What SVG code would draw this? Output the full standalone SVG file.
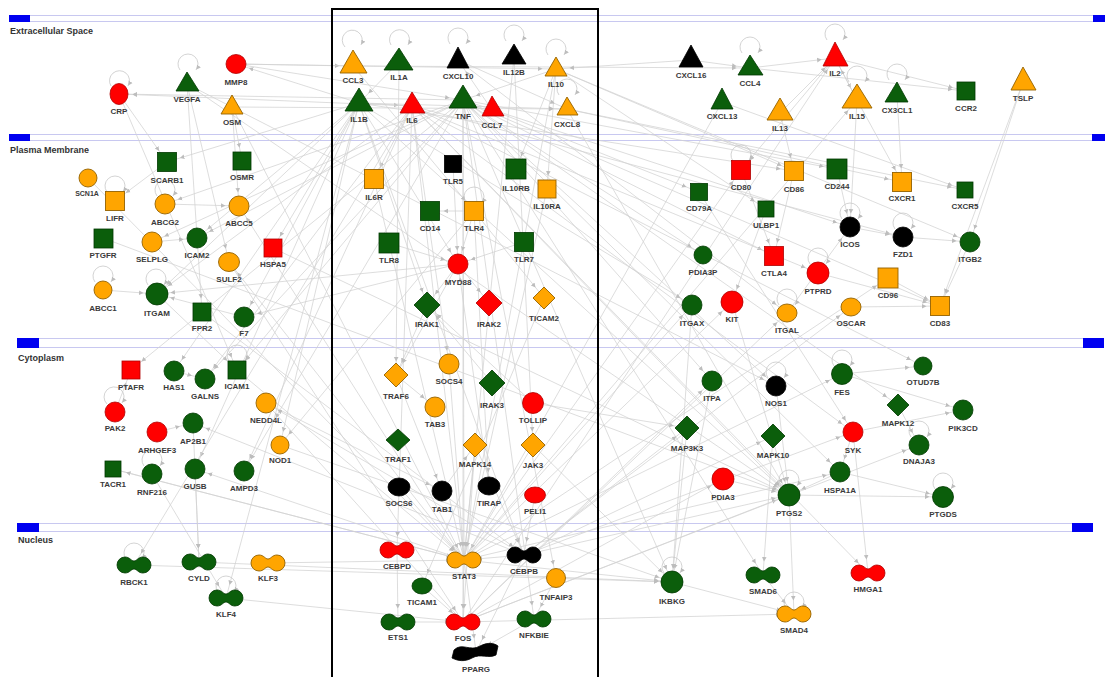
<svg xmlns="http://www.w3.org/2000/svg" xmlns:xlink="http://www.w3.org/1999/xlink" width="1105" height="677" viewBox="0 0 1105 677">
<style>
.bg{fill:#ffffff}
.cl{stroke:#c8c8f0;stroke-width:1;fill:none}
.bar{fill:#0000f0}
.ct{font-family:"Liberation Sans",Arial,sans-serif;font-weight:bold;font-size:9px;fill:#333}
.t{font-family:"Liberation Sans",Arial,sans-serif;font-weight:bold;font-size:8px;fill:#3a3a3a;text-anchor:middle}
.ts{font-size:7px}
.g{fill:#0b5e0b;stroke:#003800;stroke-width:0.8}
.o{fill:#ffa500;stroke:#946200;stroke-width:0.9}
.r{fill:#ff0000;stroke:#b00000;stroke-width:0.8}
.k{fill:#000000;stroke:#000;stroke-width:0.8}
.e line{stroke:#d2d2d2;stroke-width:0.75;marker-end:url(#a)}
.lp{stroke:#c8c8c8;stroke-width:0.8;fill:none;marker-end:url(#s)}
.box{fill:none;stroke:#000;stroke-width:2}
</style>
<defs>
<marker id="a" viewBox="0 0 20 6" refX="18" refY="3" markerWidth="20" markerHeight="6" markerUnits="userSpaceOnUse" orient="auto"><path d="M0,0.7 L4.5,3 L0,5.3 z" fill="#bdbdbd"/></marker>
<marker id="s" viewBox="0 0 6 6" refX="5" refY="3" markerWidth="6" markerHeight="6" markerUnits="userSpaceOnUse" orient="auto"><path d="M0,0.7 L4.5,3 L0,5.3 z" fill="#bdbdbd"/></marker>
<path id="db" d="M-9,-8 C-4,-8 -3,-4 0,-4 C3,-4 4,-8 9,-8 A8,8 0 0 1 9,8 C4,8 3,4 0,4 C-3,4 -4,8 -9,8 A8,8 0 0 1 -9,-8 Z"/>
</defs>
<rect class="bg" x="0" y="0" width="1105" height="677"/>
<g id="compartments">
<line class="cl" x1="9" y1="15.5" x2="1105" y2="15.5"/><line class="cl" x1="9" y1="21.5" x2="1105" y2="21.5"/>
<rect class="bar" x="9" y="15" width="21" height="7"/><rect class="bar" x="1093" y="15" width="12" height="7"/>
<text class="ct" x="10" y="34">Extracellular Space</text>
<line class="cl" x1="9" y1="134.5" x2="1105" y2="134.5"/><line class="cl" x1="9" y1="140.5" x2="1105" y2="140.5"/>
<rect class="bar" x="9" y="134" width="21" height="7"/><rect class="bar" x="1092" y="134" width="13" height="7"/>
<text class="ct" x="10" y="153">Plasma Membrane</text>
<line class="cl" x1="17" y1="338.5" x2="1104" y2="338.5"/><line class="cl" x1="17" y1="347.5" x2="1104" y2="347.5"/>
<rect class="bar" x="17" y="338" width="22" height="10"/><rect class="bar" x="1083" y="338" width="21" height="10"/>
<text class="ct" x="18" y="361">Cytoplasm</text>
<line class="cl" x1="17" y1="523.5" x2="1093" y2="523.5"/><line class="cl" x1="17" y1="531.5" x2="1093" y2="531.5"/>
<rect class="bar" x="17" y="523" width="22" height="9"/><rect class="bar" x="1072" y="523" width="21" height="9"/>
<text class="ct" x="18" y="543">Nucleus</text>
</g>
<g id="connectors" class="e">
<line x1="236" y1="64" x2="353" y2="66"/><line x1="236" y1="64" x2="556" y2="69"/><line x1="232" y1="107" x2="567" y2="109"/>
<line x1="232" y1="107" x2="242" y2="161"/><line x1="232" y1="107" x2="239" y2="206"/><line x1="232" y1="107" x2="464" y2="560"/>
<line x1="187" y1="84" x2="202" y2="312"/><line x1="187" y1="84" x2="229" y2="262"/><line x1="187" y1="84" x2="789" y2="495"/>
<line x1="119" y1="94" x2="167" y2="162"/><line x1="119" y1="94" x2="237" y2="370"/><line x1="167" y1="162" x2="115" y2="201"/>
<line x1="691" y1="60" x2="750" y2="68"/><line x1="750" y1="68" x2="835" y2="58"/><line x1="750" y1="68" x2="966" y2="91"/>
<line x1="835" y1="58" x2="966" y2="91"/><line x1="835" y1="58" x2="857" y2="100"/><line x1="857" y1="100" x2="902" y2="182"/>
<line x1="857" y1="100" x2="850" y2="227"/><line x1="780" y1="113" x2="835" y2="58"/><line x1="722" y1="102" x2="965" y2="190"/>
<line x1="897" y1="95" x2="902" y2="182"/><line x1="1023" y1="82" x2="940" y2="306"/><line x1="1023" y1="82" x2="970" y2="242"/>
<line x1="556" y1="69" x2="547" y2="189"/><line x1="556" y1="69" x2="516" y2="169"/><line x1="556" y1="69" x2="464" y2="560"/>
<line x1="556" y1="69" x2="794" y2="171"/><line x1="556" y1="69" x2="463" y2="100"/><line x1="412" y1="106" x2="374" y2="179"/>
<line x1="412" y1="106" x2="464" y2="560"/><line x1="412" y1="106" x2="397" y2="550"/><line x1="412" y1="106" x2="449" y2="364"/>
<line x1="359" y1="103" x2="412" y2="106"/><line x1="359" y1="103" x2="789" y2="495"/><line x1="359" y1="103" x2="427" y2="305"/>
<line x1="359" y1="103" x2="458" y2="264"/><line x1="359" y1="103" x2="524" y2="555"/><line x1="399" y1="62" x2="359" y2="103"/>
<line x1="399" y1="62" x2="396" y2="375"/><line x1="463" y1="100" x2="463" y2="622"/><line x1="463" y1="100" x2="464" y2="560"/>
<line x1="463" y1="100" x2="672" y2="582"/><line x1="463" y1="100" x2="237" y2="370"/><line x1="463" y1="100" x2="534" y2="619"/>
<line x1="463" y1="100" x2="556" y2="578"/><line x1="492" y1="110" x2="458" y2="60"/><line x1="458" y1="60" x2="567" y2="109"/>
<line x1="514" y1="57" x2="533" y2="445"/><line x1="514" y1="57" x2="464" y2="560"/><line x1="567" y1="109" x2="902" y2="182"/>
<line x1="567" y1="109" x2="965" y2="190"/><line x1="353" y1="66" x2="750" y2="68"/><line x1="353" y1="66" x2="474" y2="211"/>
<line x1="474" y1="211" x2="430" y2="211"/><line x1="474" y1="211" x2="458" y2="264"/><line x1="474" y1="211" x2="544" y2="298"/>
<line x1="474" y1="211" x2="489" y2="486"/><line x1="453" y1="164" x2="458" y2="264"/><line x1="524" y1="242" x2="458" y2="264"/>
<line x1="389" y1="243" x2="458" y2="264"/><line x1="458" y1="264" x2="427" y2="305"/><line x1="458" y1="264" x2="489" y2="303"/>
<line x1="458" y1="264" x2="396" y2="375"/><line x1="427" y1="305" x2="396" y2="375"/><line x1="492" y1="383" x2="427" y2="305"/>
<line x1="533" y1="403" x2="427" y2="305"/><line x1="396" y1="375" x2="442" y2="491"/><line x1="396" y1="375" x2="435" y2="407"/>
<line x1="442" y1="491" x2="475" y2="445"/><line x1="475" y1="445" x2="524" y2="555"/><line x1="475" y1="445" x2="463" y2="622"/>
<line x1="475" y1="445" x2="464" y2="560"/><line x1="533" y1="445" x2="464" y2="560"/><line x1="449" y1="364" x2="464" y2="560"/>
<line x1="399" y1="487" x2="464" y2="560"/><line x1="535" y1="495" x2="524" y2="555"/><line x1="489" y1="486" x2="458" y2="264"/>
<line x1="544" y1="298" x2="422" y2="586"/><line x1="422" y1="586" x2="463" y2="622"/><line x1="397" y1="550" x2="398" y2="622"/>
<line x1="464" y1="560" x2="463" y2="622"/><line x1="464" y1="560" x2="476" y2="652"/><line x1="524" y1="555" x2="476" y2="652"/>
<line x1="534" y1="619" x2="476" y2="652"/><line x1="398" y1="622" x2="463" y2="622"/><line x1="556" y1="578" x2="534" y2="619"/>
<line x1="524" y1="555" x2="464" y2="560"/><line x1="741" y1="170" x2="774" y2="256"/><line x1="794" y1="171" x2="774" y2="256"/>
<line x1="837" y1="169" x2="850" y2="227"/><line x1="699" y1="192" x2="853" y2="432"/><line x1="766" y1="209" x2="732" y2="302"/>
<line x1="850" y1="227" x2="903" y2="237"/><line x1="903" y1="237" x2="970" y2="242"/><line x1="888" y1="278" x2="940" y2="306"/>
<line x1="851" y1="307" x2="940" y2="306"/><line x1="970" y1="242" x2="940" y2="306"/><line x1="818" y1="273" x2="940" y2="306"/>
<line x1="787" y1="313" x2="850" y2="227"/><line x1="732" y1="302" x2="789" y2="495"/><line x1="692" y1="305" x2="672" y2="582"/>
<line x1="842" y1="374" x2="923" y2="366"/><line x1="842" y1="374" x2="963" y2="410"/><line x1="853" y1="432" x2="963" y2="410"/>
<line x1="898" y1="405" x2="919" y2="445"/><line x1="853" y1="432" x2="840" y2="472"/><line x1="840" y1="472" x2="789" y2="495"/>
<line x1="840" y1="472" x2="943" y2="497"/><line x1="789" y1="495" x2="943" y2="497"/><line x1="853" y1="432" x2="868" y2="573"/>
<line x1="773" y1="436" x2="763" y2="575"/><line x1="687" y1="428" x2="672" y2="582"/><line x1="723" y1="479" x2="789" y2="495"/>
<line x1="763" y1="575" x2="794" y2="614"/><line x1="672" y1="582" x2="794" y2="614"/><line x1="789" y1="495" x2="794" y2="614"/>
<line x1="776" y1="386" x2="789" y2="495"/><line x1="712" y1="381" x2="672" y2="582"/><line x1="273" y1="248" x2="789" y2="495"/>
<line x1="237" y1="370" x2="464" y2="560"/><line x1="266" y1="403" x2="442" y2="491"/><line x1="280" y1="445" x2="672" y2="582"/>
<line x1="195" y1="469" x2="199" y2="562"/><line x1="152" y1="474" x2="226" y2="598"/><line x1="193" y1="423" x2="199" y2="562"/>
<line x1="134" y1="565" x2="672" y2="582"/><line x1="199" y1="562" x2="672" y2="582"/><line x1="268" y1="563" x2="464" y2="560"/>
<line x1="226" y1="598" x2="463" y2="622"/><line x1="113" y1="469" x2="464" y2="560"/><line x1="115" y1="412" x2="131" y2="370"/>
<line x1="157" y1="432" x2="193" y2="423"/><line x1="174" y1="371" x2="205" y2="379"/><line x1="152" y1="242" x2="197" y2="238"/>
<line x1="103" y1="238" x2="789" y2="495"/><line x1="157" y1="294" x2="237" y2="370"/><line x1="103" y1="290" x2="157" y2="294"/>
<line x1="244" y1="317" x2="157" y2="294"/><line x1="165" y1="204" x2="239" y2="206"/><line x1="88" y1="178" x2="464" y2="560"/>
<line x1="229" y1="262" x2="463" y2="622"/><line x1="202" y1="312" x2="524" y2="555"/><line x1="464" y1="560" x2="722" y2="102"/>
<line x1="412" y1="106" x2="868" y2="573"/><line x1="463" y1="100" x2="763" y2="575"/><line x1="359" y1="103" x2="226" y2="598"/>
<line x1="524" y1="555" x2="789" y2="495"/><line x1="463" y1="622" x2="794" y2="614"/><line x1="464" y1="560" x2="672" y2="582"/>
<line x1="835" y1="58" x2="741" y2="170"/><line x1="857" y1="100" x2="835" y2="58"/><line x1="691" y1="60" x2="556" y2="69"/>
<line x1="359" y1="103" x2="567" y2="109"/><line x1="463" y1="100" x2="850" y2="227"/><line x1="412" y1="106" x2="903" y2="237"/>
<line x1="463" y1="100" x2="940" y2="306"/><line x1="556" y1="69" x2="970" y2="242"/><line x1="464" y1="560" x2="692" y2="305"/>
<line x1="463" y1="622" x2="723" y2="479"/><line x1="524" y1="555" x2="773" y2="436"/><line x1="533" y1="403" x2="687" y2="428"/>
<line x1="533" y1="445" x2="672" y2="582"/><line x1="463" y1="100" x2="244" y2="471"/><line x1="359" y1="103" x2="195" y2="469"/>
<line x1="474" y1="211" x2="280" y2="445"/><line x1="492" y1="110" x2="699" y2="192"/><line x1="359" y1="103" x2="197" y2="238"/>
<line x1="458" y1="60" x2="787" y2="313"/><line x1="780" y1="113" x2="794" y2="171"/><line x1="463" y1="100" x2="131" y2="370"/>
<line x1="412" y1="106" x2="134" y2="565"/><line x1="464" y1="560" x2="113" y2="469"/><line x1="458" y1="264" x2="157" y2="294"/>
<line x1="547" y1="189" x2="464" y2="560"/><line x1="374" y1="179" x2="464" y2="560"/><line x1="412" y1="106" x2="789" y2="495"/>
<line x1="463" y1="100" x2="840" y2="472"/><line x1="359" y1="103" x2="273" y2="248"/><line x1="464" y1="560" x2="732" y2="302"/>
<line x1="524" y1="555" x2="853" y2="432"/><line x1="236" y1="64" x2="463" y2="100"/><line x1="187" y1="84" x2="776" y2="386"/>
<line x1="359" y1="103" x2="236" y2="64"/><line x1="463" y1="100" x2="119" y2="94"/><line x1="412" y1="106" x2="119" y2="94"/>
<line x1="359" y1="103" x2="244" y2="317"/><line x1="463" y1="100" x2="152" y2="242"/><line x1="412" y1="106" x2="157" y2="294"/>
<line x1="463" y1="622" x2="835" y2="58"/><line x1="464" y1="560" x2="857" y2="100"/><line x1="463" y1="100" x2="712" y2="381"/>
<line x1="524" y1="555" x2="266" y2="403"/><line x1="412" y1="106" x2="205" y2="379"/><line x1="359" y1="103" x2="174" y2="371"/>
<line x1="464" y1="560" x2="239" y2="206"/><line x1="464" y1="560" x2="229" y2="262"/><line x1="463" y1="100" x2="197" y2="238"/>
<line x1="359" y1="103" x2="157" y2="294"/><line x1="458" y1="264" x2="244" y2="317"/><line x1="463" y1="100" x2="165" y2="204"/>
<line x1="359" y1="103" x2="167" y2="162"/><line x1="463" y1="622" x2="266" y2="403"/><line x1="524" y1="555" x2="193" y2="423"/>
<line x1="464" y1="560" x2="195" y2="469"/><line x1="412" y1="106" x2="244" y2="471"/><line x1="463" y1="100" x2="205" y2="379"/>
<line x1="359" y1="103" x2="280" y2="445"/><line x1="464" y1="560" x2="741" y2="170"/><line x1="463" y1="100" x2="774" y2="256"/>
<line x1="412" y1="106" x2="818" y2="273"/><line x1="463" y1="622" x2="787" y2="313"/><line x1="524" y1="555" x2="851" y2="307"/>
<line x1="464" y1="560" x2="888" y2="278"/><line x1="556" y1="69" x2="766" y2="209"/><line x1="463" y1="100" x2="837" y2="169"/>
<line x1="359" y1="103" x2="794" y2="171"/><line x1="464" y1="560" x2="842" y2="374"/><line x1="463" y1="622" x2="712" y2="381"/>
<line x1="463" y1="100" x2="776" y2="386"/><line x1="524" y1="555" x2="687" y2="428"/><line x1="412" y1="106" x2="853" y2="432"/>
<line x1="464" y1="560" x2="840" y2="472"/><line x1="463" y1="622" x2="789" y2="495"/><line x1="463" y1="100" x2="703" y2="255"/>
<line x1="359" y1="103" x2="692" y2="305"/><line x1="567" y1="109" x2="789" y2="495"/><line x1="412" y1="106" x2="923" y2="366"/>
<line x1="463" y1="100" x2="898" y2="405"/><line x1="463" y1="622" x2="919" y2="445"/>
<path class="lp" d="M111,86 A10,10 0 1 1 128,86"/><path class="lp" d="M180,70 A10,10 0 1 1 196,70"/>
<path class="lp" d="M345,47 A10,10 0 1 1 361,45"/><path class="lp" d="M391,45 A10,10 0 1 1 408,45"/>
<path class="lp" d="M450,44 A10,10 0 1 1 466,44"/><path class="lp" d="M506,41 A10,10 0 1 1 522,41"/>
<path class="lp" d="M548,55 A10,10 0 1 1 564,55"/><path class="lp" d="M559,95 A10,10 0 1 1 575,95"/>
<path class="lp" d="M742,53 A10,10 0 1 1 758,53"/><path class="lp" d="M827,40 A10,10 0 1 1 843,40"/>
<path class="lp" d="M849,82 A10,10 0 1 1 865,82"/><path class="lp" d="M889,80 A10,10 0 1 1 905,80"/>
<path class="lp" d="M107,192 A10,10 0 1 1 123,192"/><path class="lp" d="M157,196 A10,10 0 1 1 173,196"/>
<path class="lp" d="M95,282 A10,10 0 1 1 111,282"/><path class="lp" d="M148,285 A10,10 0 1 1 164,285"/>
<path class="lp" d="M107,404 A10,10 0 1 1 122,403"/><path class="lp" d="M229,361 A10,10 0 1 1 245,361"/>
<path class="lp" d="M144,466 A10,10 0 1 1 160,466"/><path class="lp" d="M466,203 A10,10 0 1 1 482,203"/>
<path class="lp" d="M733,161 A10,10 0 1 1 749,161"/><path class="lp" d="M842,219 A10,10 0 1 1 858,219"/>
<path class="lp" d="M895,229 A10,10 0 1 1 911,229"/><path class="lp" d="M779,305 A10,10 0 1 1 795,305"/>
<path class="lp" d="M810,264 A10,10 0 1 1 826,264"/><path class="lp" d="M834,366 A10,10 0 1 1 850,366"/>
<path class="lp" d="M768,378 A10,10 0 1 1 784,378"/><path class="lp" d="M911,437 A10,10 0 1 1 927,437"/>
<path class="lp" d="M781,486 A10,10 0 1 1 797,486"/><path class="lp" d="M935,489 A10,10 0 1 1 951,489"/>
<path class="lp" d="M664,573 A10,10 0 1 1 680,573"/><path class="lp" d="M126,559 A10,10 0 1 1 142,559"/>
<path class="lp" d="M218,592 A10,10 0 1 1 234,592"/><path class="lp" d="M786,608 A10,10 0 1 1 802,608"/>
</g>
<rect class="box" x="332" y="9" width="266" height="672"/>
<g id="n-CRP"><ellipse class="r" cx="119" cy="94" rx="9" ry="10.5"/><text class="t" x="119" y="114">CRP</text></g>
<g id="n-VEGFA"><polygon class="g" points="187,72 176,91 199,91"/><text class="t" x="187" y="102">VEGFA</text></g>
<g id="n-MMP8"><ellipse class="r" cx="236" cy="64" rx="10" ry="9.5"/><text class="t" x="236" y="85">MMP8</text></g>
<g id="n-OSM"><polygon class="o" points="232,95 221,114 243,114"/><text class="t" x="232" y="125">OSM</text></g>
<g id="n-CCL3"><polygon class="o" points="353,50 340,73 367,73"/><text class="t" x="353" y="83">CCL3</text></g>
<g id="n-IL1A"><polygon class="g" points="399,48 384,70 413,70"/><text class="t" x="399" y="80">IL1A</text></g>
<g id="n-CXCL10"><polygon class="k" points="458,47 447,68 469,68"/><text class="t" x="458" y="79">CXCL10</text></g>
<g id="n-IL12B"><polygon class="k" points="514,44 502,64 526,64"/><text class="t" x="514" y="75">IL12B</text></g>
<g id="n-IL10"><polygon class="o" points="556,57 545,76 567,76"/><text class="t" x="556" y="87">IL10</text></g>
<g id="n-IL1B"><polygon class="g" points="359,88 345,111 373,111"/><text class="t" x="359" y="122">IL1B</text></g>
<g id="n-IL6"><polygon class="r" points="412,92 400,113 425,113"/><text class="t" x="412" y="123">IL6</text></g>
<g id="n-TNF"><polygon class="g" points="463,85 449,108 477,108"/><text class="t" x="463" y="119">TNF</text></g>
<g id="n-CCL7"><polygon class="r" points="492,96 482,116 504,116"/><text class="t" x="492" y="128">CCL7</text></g>
<g id="n-CXCL8"><polygon class="o" points="567,97 557,115 578,115"/><text class="t" x="567" y="127">CXCL8</text></g>
<g id="n-CXCL16"><polygon class="k" points="691,45 679,67 703,67"/><text class="t" x="691" y="78">CXCL16</text></g>
<g id="n-CCL4"><polygon class="g" points="750,55 738,75 763,75"/><text class="t" x="750" y="86">CCL4</text></g>
<g id="n-IL2"><polygon class="r" points="835,42 823,66 848,66"/><text class="t" x="835" y="76">IL2</text></g>
<g id="n-CXCL13"><polygon class="g" points="722,88 711,109 733,109"/><text class="t" x="722" y="119">CXCL13</text></g>
<g id="n-IL13"><polygon class="o" points="780,98 767,120 793,120"/><text class="t" x="780" y="131">IL13</text></g>
<g id="n-IL15"><polygon class="o" points="857,84 842,108 872,108"/><text class="t" x="857" y="119">IL15</text></g>
<g id="n-CX3CL1"><polygon class="g" points="897,82 885,102 908,102"/><text class="t" x="897" y="113">CX3CL1</text></g>
<g id="n-CCR2"><rect class="g" x="957" y="82" width="18" height="18"/><text class="t" x="966" y="111">CCR2</text></g>
<g id="n-TSLP"><polygon class="o" points="1023,67 1011,90 1036,90"/><text class="t" x="1023" y="101">TSLP</text></g>
<g id="n-SCARB1"><rect class="g" x="157.5" y="152.5" width="19" height="19"/><text class="t" x="167" y="183">SCARB1</text></g>
<g id="n-OSMR"><rect class="g" x="233" y="152" width="18" height="18"/><text class="t" x="242" y="180">OSMR</text></g>
<g id="n-SCN1A"><circle class="o" cx="88" cy="178" r="9"/><text class="t ts" x="87" y="196">SCN1A</text></g>
<g id="n-LIFR"><rect class="o" x="105.5" y="191.5" width="19" height="19"/><text class="t" x="115" y="221">LIFR</text></g>
<g id="n-ABCG2"><circle class="o" cx="165" cy="204" r="10"/><text class="t" x="165" y="225">ABCG2</text></g>
<g id="n-ABCC5"><circle class="o" cx="239" cy="206" r="10"/><text class="t" x="239" y="226">ABCC5</text></g>
<g id="n-PTGFR"><rect class="g" x="94" y="229" width="19" height="19"/><text class="t" x="103" y="258">PTGFR</text></g>
<g id="n-SELPLG"><circle class="o" cx="152" cy="242" r="10"/><text class="t" x="152" y="262">SELPLG</text></g>
<g id="n-ICAM2"><circle class="g" cx="197" cy="238" r="10"/><text class="t" x="197" y="258">ICAM2</text></g>
<g id="n-HSPA5"><rect class="r" x="264" y="239" width="18" height="18"/><text class="t" x="273" y="267">HSPA5</text></g>
<g id="n-SULF2"><ellipse class="o" cx="229" cy="262" rx="10.5" ry="9.5"/><text class="t" x="229" y="282">SULF2</text></g>
<g id="n-ABCC1"><circle class="o" cx="103" cy="290" r="9"/><text class="t" x="103" y="311">ABCC1</text></g>
<g id="n-ITGAM"><circle class="g" cx="157" cy="294" r="11"/><text class="t" x="157" y="316">ITGAM</text></g>
<g id="n-FPR2"><rect class="g" x="193" y="303" width="18" height="18"/><text class="t" x="202" y="331">FPR2</text></g>
<g id="n-F7"><circle class="g" cx="244" cy="317" r="10"/><text class="t" x="244" y="336">F7</text></g>
<g id="n-PTAFR"><rect class="r" x="122" y="361" width="18" height="18"/><text class="t" x="131" y="390">PTAFR</text></g>
<g id="n-HAS1"><circle class="g" cx="174" cy="371" r="10"/><text class="t" x="174" y="390">HAS1</text></g>
<g id="n-GALNS"><circle class="g" cx="205" cy="379" r="10"/><text class="t" x="205" y="399">GALNS</text></g>
<g id="n-ICAM1"><rect class="g" x="228" y="361" width="18" height="18"/><text class="t" x="237" y="389">ICAM1</text></g>
<g id="n-NEDD4L"><circle class="o" cx="266" cy="403" r="10"/><text class="t" x="266" y="423">NEDD4L</text></g>
<g id="n-PAK2"><circle class="r" cx="115" cy="412" r="10"/><text class="t" x="115" y="431">PAK2</text></g>
<g id="n-AP2B1"><circle class="g" cx="193" cy="423" r="10"/><text class="t" x="193" y="444">AP2B1</text></g>
<g id="n-ARHGEF3"><circle class="r" cx="157" cy="432" r="10"/><text class="t" x="157" y="453">ARHGEF3</text></g>
<g id="n-NOD1"><circle class="o" cx="280" cy="445" r="9"/><text class="t" x="280" y="463">NOD1</text></g>
<g id="n-TACR1"><rect class="g" x="105" y="461" width="16" height="16"/><text class="t" x="113" y="487">TACR1</text></g>
<g id="n-RNF216"><circle class="g" cx="152" cy="474" r="10"/><text class="t" x="152" y="495">RNF216</text></g>
<g id="n-GUSB"><circle class="g" cx="195" cy="469" r="10"/><text class="t" x="195" y="489">GUSB</text></g>
<g id="n-AMPD3"><circle class="g" cx="244" cy="471" r="10"/><text class="t" x="244" y="491">AMPD3</text></g>
<g id="n-RBCK1"><use href="#db" xlink:href="#db" class="g" transform="translate(134,565)"/><text class="t" x="134" y="585">RBCK1</text></g>
<g id="n-CYLD"><use href="#db" xlink:href="#db" class="g" transform="translate(199,562)"/><text class="t" x="199" y="581">CYLD</text></g>
<g id="n-KLF3"><use href="#db" xlink:href="#db" class="o" transform="translate(268,563)"/><text class="t" x="268" y="581">KLF3</text></g>
<g id="n-KLF4"><use href="#db" xlink:href="#db" class="g" transform="translate(226,598)"/><text class="t" x="226" y="617">KLF4</text></g>
<g id="n-IL6R"><rect class="o" x="364.5" y="169.5" width="19" height="19"/><text class="t" x="374" y="200">IL6R</text></g>
<g id="n-TLR5"><rect class="k" x="444.5" y="155.5" width="17" height="17"/><text class="t" x="453" y="184">TLR5</text></g>
<g id="n-IL10RB"><rect class="g" x="506" y="159" width="20" height="20"/><text class="t" x="516" y="191">IL10RB</text></g>
<g id="n-IL10RA"><rect class="o" x="538" y="180" width="18" height="18"/><text class="t" x="547" y="209">IL10RA</text></g>
<g id="n-CD14"><rect class="g" x="420.5" y="201.5" width="19" height="19"/><text class="t" x="430" y="231">CD14</text></g>
<g id="n-TLR4"><rect class="o" x="464.5" y="201.5" width="19" height="19"/><text class="t" x="474" y="231">TLR4</text></g>
<g id="n-TLR8"><rect class="g" x="379" y="233" width="20" height="20"/><text class="t" x="389" y="263">TLR8</text></g>
<g id="n-TLR7"><rect class="g" x="514.5" y="232.5" width="19" height="19"/><text class="t" x="524" y="262">TLR7</text></g>
<g id="n-MYD88"><circle class="r" cx="458" cy="264" r="10"/><text class="t" x="458" y="285">MYD88</text></g>
<g id="n-IRAK1"><polygon class="g" points="427,292 440,305 427,318 414,305"/><text class="t" x="427" y="327">IRAK1</text></g>
<g id="n-IRAK2"><polygon class="r" points="489,290 502,303 489,316 476,303"/><text class="t" x="489" y="327">IRAK2</text></g>
<g id="n-TICAM2"><polygon class="o" points="544,287 555,298 544,309 533,298"/><text class="t" x="544" y="321">TICAM2</text></g>
<g id="n-TRAF6"><polygon class="o" points="396,363 408,375 396,387 384,375"/><text class="t" x="396" y="399">TRAF6</text></g>
<g id="n-SOCS4"><circle class="o" cx="449" cy="364" r="10"/><text class="t" x="449" y="384">SOCS4</text></g>
<g id="n-IRAK3"><polygon class="g" points="492,370 505,383 492,396 479,383"/><text class="t" x="492" y="408">IRAK3</text></g>
<g id="n-TAB3"><circle class="o" cx="435" cy="407" r="10"/><text class="t" x="435" y="427">TAB3</text></g>
<g id="n-TOLLIP"><circle class="r" cx="533" cy="403" r="10.5"/><text class="t" x="533" y="423">TOLLIP</text></g>
<g id="n-TRAF1"><polygon class="g" points="398,429 410,440 398,451 386,440"/><text class="t" x="398" y="462">TRAF1</text></g>
<g id="n-MAPK14"><polygon class="o" points="475,433 487,445 475,457 463,445"/><text class="t" x="475" y="467">MAPK14</text></g>
<g id="n-JAK3"><polygon class="o" points="533,433 545,445 533,457 521,445"/><text class="t" x="533" y="468">JAK3</text></g>
<g id="n-SOCS6"><ellipse class="k" cx="399" cy="487" rx="11" ry="9"/><text class="t" x="399" y="506">SOCS6</text></g>
<g id="n-TAB1"><circle class="k" cx="442" cy="491" r="10"/><text class="t" x="442" y="512">TAB1</text></g>
<g id="n-TIRAP"><ellipse class="k" cx="489" cy="486" rx="11" ry="9"/><text class="t" x="489" y="506">TIRAP</text></g>
<g id="n-PELI1"><ellipse class="r" cx="535" cy="495" rx="10.5" ry="8"/><text class="t" x="535" y="514">PELI1</text></g>
<g id="n-CEBPD"><use href="#db" xlink:href="#db" class="r" transform="translate(397,550)"/><text class="t" x="397" y="569">CEBPD</text></g>
<g id="n-STAT3"><use href="#db" xlink:href="#db" class="o" transform="translate(464,560)"/><text class="t" x="464" y="579">STAT3</text></g>
<g id="n-CEBPB"><use href="#db" xlink:href="#db" class="k" transform="translate(524,555)"/><text class="t" x="524" y="574">CEBPB</text></g>
<g id="n-TICAM1"><ellipse class="g" cx="422" cy="586" rx="10" ry="8"/><text class="t" x="422" y="605">TICAM1</text></g>
<g id="n-TNFAIP3"><circle class="o" cx="556" cy="578" r="9.5"/><text class="t" x="556" y="600">TNFAIP3</text></g>
<g id="n-ETS1"><use href="#db" xlink:href="#db" class="g" transform="translate(398,622)"/><text class="t" x="398" y="640">ETS1</text></g>
<g id="n-FOS"><use href="#db" xlink:href="#db" class="r" transform="translate(463,622)"/><text class="t" x="463" y="641">FOS</text></g>
<g id="n-NFKBIE"><use href="#db" xlink:href="#db" class="g" transform="translate(534,619)"/><text class="t" x="534" y="638">NFKBIE</text></g>
<g id="n-PPARG"><path class="k" d="M454,650 C462,642 470,652 480,646 C488,642 494,643 498,646 L496,655 C488,659 481,653 472,658 C465,662 458,661 452,658 Z"/><text class="t" x="476" y="672">PPARG</text></g>
<g id="n-CD80"><rect class="r" x="731.5" y="160.5" width="19" height="19"/><text class="t" x="741" y="190">CD80</text></g>
<g id="n-CD86"><rect class="o" x="784.5" y="161.5" width="19" height="19"/><text class="t" x="794" y="192">CD86</text></g>
<g id="n-CD244"><rect class="g" x="827" y="159" width="20" height="20"/><text class="t" x="837" y="189">CD244</text></g>
<g id="n-CD79A"><rect class="g" x="690.5" y="183.5" width="17" height="17"/><text class="t" x="699" y="211">CD79A</text></g>
<g id="n-CXCR1"><rect class="o" x="892.5" y="172.5" width="19" height="19"/><text class="t" x="902" y="201">CXCR1</text></g>
<g id="n-CXCR5"><rect class="g" x="957" y="182" width="16" height="16"/><text class="t" x="965" y="209">CXCR5</text></g>
<g id="n-ULBP1"><rect class="g" x="758" y="201" width="16" height="16"/><text class="t" x="766" y="228">ULBP1</text></g>
<g id="n-ICOS"><circle class="k" cx="850" cy="227" r="10"/><text class="t" x="850" y="247">ICOS</text></g>
<g id="n-FZD1"><circle class="k" cx="903" cy="237" r="10"/><text class="t" x="903" y="257">FZD1</text></g>
<g id="n-ITGB2"><circle class="g" cx="970" cy="242" r="10"/><text class="t" x="970" y="262">ITGB2</text></g>
<g id="n-PDIA3P"><circle class="g" cx="703" cy="255" r="9"/><text class="t" x="703" y="275">PDIA3P</text></g>
<g id="n-CTLA4"><rect class="r" x="764.5" y="246.5" width="19" height="19"/><text class="t" x="774" y="276">CTLA4</text></g>
<g id="n-PTPRD"><circle class="r" cx="818" cy="273" r="11"/><text class="t" x="818" y="294">PTPRD</text></g>
<g id="n-CD96"><rect class="o" x="878" y="268" width="20" height="20"/><text class="t" x="888" y="298">CD96</text></g>
<g id="n-ITGAX"><circle class="g" cx="692" cy="305" r="10"/><text class="t" x="692" y="326">ITGAX</text></g>
<g id="n-KIT"><circle class="r" cx="732" cy="302" r="11"/><text class="t" x="732" y="322">KIT</text></g>
<g id="n-ITGAL"><ellipse class="o" cx="787" cy="313" rx="10" ry="9"/><text class="t" x="787" y="333">ITGAL</text></g>
<g id="n-OSCAR"><ellipse class="o" cx="851" cy="307" rx="10" ry="9"/><text class="t" x="851" y="326">OSCAR</text></g>
<g id="n-CD83"><rect class="o" x="930.5" y="296.5" width="19" height="19"/><text class="t" x="940" y="326">CD83</text></g>
<g id="n-OTUD7B"><circle class="g" cx="923" cy="366" r="9"/><text class="t" x="923" y="385">OTUD7B</text></g>
<g id="n-ITPA"><circle class="g" cx="712" cy="381" r="10"/><text class="t" x="712" y="401">ITPA</text></g>
<g id="n-NOS1"><circle class="k" cx="776" cy="386" r="10"/><text class="t" x="776" y="406">NOS1</text></g>
<g id="n-FES"><circle class="g" cx="842" cy="374" r="10.5"/><text class="t" x="842" y="395">FES</text></g>
<g id="n-MAPK12"><polygon class="g" points="898,394 909,405 898,416 887,405"/><text class="t" x="898" y="426">MAPK12</text></g>
<g id="n-PIK3CD"><circle class="g" cx="963" cy="410" r="10"/><text class="t" x="963" y="431">PIK3CD</text></g>
<g id="n-MAP3K3"><polygon class="g" points="687,416 699,428 687,440 675,428"/><text class="t" x="687" y="451">MAP3K3</text></g>
<g id="n-MAPK10"><polygon class="g" points="773,424 785,436 773,448 761,436"/><text class="t" x="773" y="458">MAPK10</text></g>
<g id="n-SYK"><circle class="r" cx="853" cy="432" r="10"/><text class="t" x="853" y="453">SYK</text></g>
<g id="n-DNAJA3"><circle class="g" cx="919" cy="445" r="10"/><text class="t" x="919" y="464">DNAJA3</text></g>
<g id="n-PDIA3"><circle class="r" cx="723" cy="479" r="11"/><text class="t" x="723" y="500">PDIA3</text></g>
<g id="n-HSPA1A"><circle class="g" cx="840" cy="472" r="10"/><text class="t" x="840" y="493">HSPA1A</text></g>
<g id="n-PTGS2"><circle class="g" cx="789" cy="495" r="11"/><text class="t" x="789" y="516">PTGS2</text></g>
<g id="n-PTGDS"><circle class="g" cx="943" cy="497" r="10.5"/><text class="t" x="943" y="517">PTGDS</text></g>
<g id="n-IKBKG"><circle class="g" cx="672" cy="582" r="11"/><text class="t" x="672" y="604">IKBKG</text></g>
<g id="n-SMAD6"><use href="#db" xlink:href="#db" class="g" transform="translate(763,575)"/><text class="t" x="763" y="594">SMAD6</text></g>
<g id="n-HMGA1"><use href="#db" xlink:href="#db" class="r" transform="translate(868,573)"/><text class="t" x="868" y="592">HMGA1</text></g>
<g id="n-SMAD4"><use href="#db" xlink:href="#db" class="o" transform="translate(794,614)"/><text class="t" x="794" y="633">SMAD4</text></g>
</svg>
